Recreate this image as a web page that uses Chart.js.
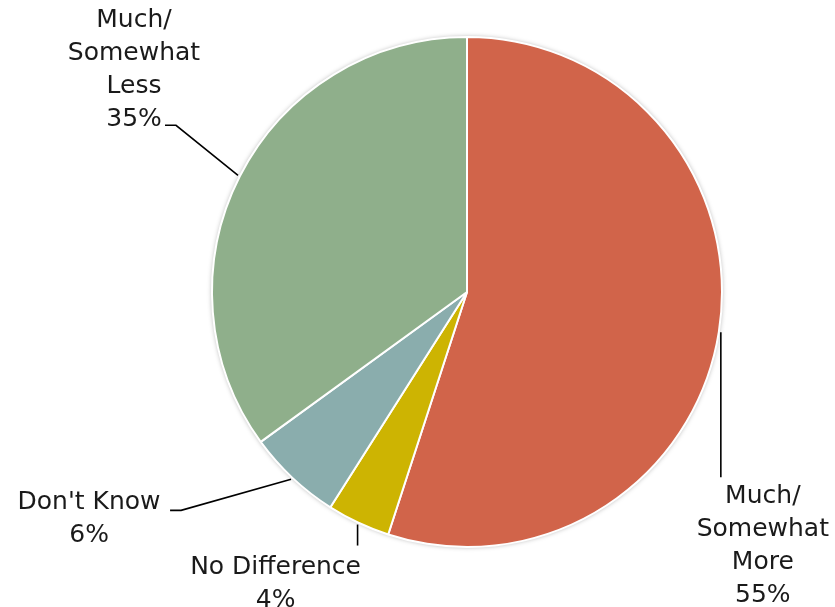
<!DOCTYPE html>
<html>
<head>
<meta charset="utf-8">
<script src="https://cdn.jsdelivr.net/npm/chart.js@4/dist/chart.umd.min.js"></script>
<style>
  html, body { margin: 0; padding: 0; background: #ffffff; }
  #wrap { width: 835px; height: 607px; position: relative; }
</style>
</head>
<body>
<div id="wrap"><canvas id="pie"></canvas></div>
<script>
// Survey answers, clockwise from 12 o'clock
const categories = ['Much/\nSomewhat\nMore', 'No Difference', "Don't Know", 'Much/\nSomewhat\nLess'];
const shares = [55, 4, 6, 35];
const sliceColors = ['#D1644A', '#CDB402', '#8AADAD', '#8FAF8B'];

// Label placement per slice: leader-line route and text block anchor,
// given as offsets from the slice's outer-edge midpoint.
const labelLayout = [
  { path: [[0, 0], [0, 145]], text: [42, 171], align: 'center' },
  { path: [[0, 0], [0, 21]], text: [-82, 49], align: 'center' },
  { path: [[0, 0], [-110, 31], [-121, 31]], text: [-202, 30], align: 'center' },
  { path: [[0, 0], [-62, -50], [-73, -50]], text: [-104, -148], align: 'center' }
];

const FONT = '25px "DejaVu Sans", sans-serif';
const LINE_H = 33;

const pieShadow = {
  id: 'pieShadow',
  beforeDatasetsDraw(chart) {
    const arc = chart.getDatasetMeta(0).data[0];
    const ctx = chart.ctx;
    ctx.save();
    ctx.shadowColor = 'rgba(0,0,0,0.35)';
    ctx.shadowBlur = 5;
    ctx.fillStyle = '#ffffff';
    ctx.beginPath();
    ctx.arc(arc.x, arc.y, arc.outerRadius, 0, Math.PI * 2);
    ctx.fill();
    ctx.restore();
  }
};

const sliceLabels = {
  id: 'sliceLabels',
  afterDatasetsDraw(chart) {
    const ctx = chart.ctx;
    const meta = chart.getDatasetMeta(0);
    meta.data.forEach((arc, i) => {
      const mid = (arc.startAngle + arc.endAngle) / 2;
      const r = arc.outerRadius + 2;
      const ax = arc.x + Math.cos(mid) * r;
      const ay = arc.y + Math.sin(mid) * r;
      const lay = labelLayout[i];
      ctx.save();
      ctx.strokeStyle = '#000000';
      ctx.lineWidth = 1.6;
      ctx.beginPath();
      lay.path.forEach(([dx, dy], k) => {
        if (k === 0) ctx.moveTo(ax + dx, ay + dy);
        else ctx.lineTo(ax + dx, ay + dy);
      });
      ctx.stroke();
      const lines = categories[i].split('\n').concat([shares[i] + '%']);
      ctx.font = FONT;
      ctx.fillStyle = '#1a1a1a';
      ctx.textAlign = lay.align;
      ctx.textBaseline = 'alphabetic';
      lines.forEach((t, k) => {
        ctx.fillText(t, ax + lay.text[0], ay + lay.text[1] + k * LINE_H);
      });
      ctx.restore();
    });
  }
};

new Chart(document.getElementById('pie'), {
  type: 'pie',
  data: {
    labels: categories,
    datasets: [{
      data: shares,
      backgroundColor: sliceColors,
      borderColor: '#ffffff',
      borderWidth: 2
    }]
  },
  options: {
    responsive: true,
    maintainAspectRatio: false,
    animation: false,
    layout: { padding: { left: 211, right: 112, top: 36, bottom: 59 } },
    plugins: {
      legend: { display: false },
      tooltip: { enabled: false }
    }
  },
  plugins: [pieShadow, sliceLabels]
});
</script>
</body>
</html>
